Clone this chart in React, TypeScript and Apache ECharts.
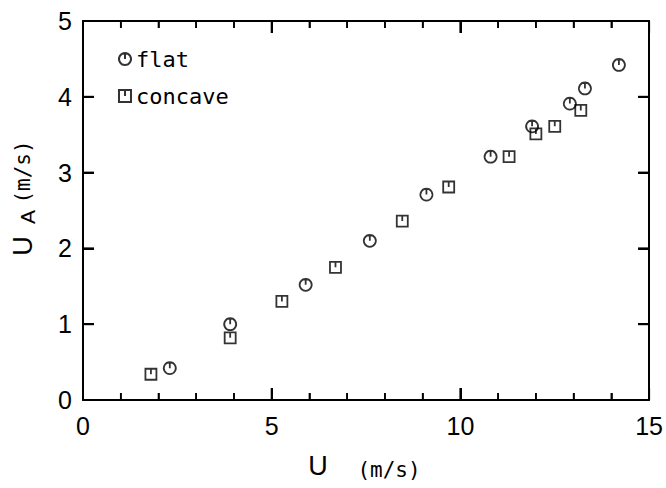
import React, { useEffect, useRef } from "react";
import * as echarts from "echarts";

// Wind speed U vs. apparent speed U_A, two plate shapes
const flatU = [2.3, 3.9, 5.9, 7.6, 9.1, 10.8, 11.9, 12.9, 13.3, 14.2];
const flatUA = [0.42, 1.0, 1.52, 2.1, 2.71, 3.21, 3.61, 3.91, 4.11, 4.42];
const concaveU = [1.8, 3.9, 5.27, 6.69, 8.46, 9.69, 11.29, 12.0, 12.5, 13.19];
const concaveUA = [0.34, 0.82, 1.3, 1.75, 2.36, 2.81, 3.21, 3.51, 3.61, 3.82];
const xTicks = [0, 5, 10, 15];
const xMinorTicks = [1, 2, 3, 4, 6, 7, 8, 9, 11, 12, 13, 14];
const yTicks = [0, 1, 2, 3, 4, 5];

const circleSym = "path://M0,-10 A10,10 0 1,1 -0.01,-10 Z M0,-10 L0,0";
const squareSym = "path://M-10,-10 L10,-10 L10,10 L-10,10 Z M0,-10 L0,0";

const X_MIN = xTicks[0];
const X_MAX = xTicks[xTicks.length - 1];
const Y_MIN = yTicks[0];
const Y_MAX = yTicks[yTicks.length - 1];

// Frame side codes for the inward tick marks: 0 bottom, 1 top, 2 left, 3 right
const frameTicks: number[][] = [
  ...xTicks.flatMap((v) => [[v, 0, 12], [v, 1, 12]]),
  ...xMinorTicks.flatMap((v) => [[v, 0, 7], [v, 1, 7]]),
  ...yTicks.flatMap((v) => [[v, 2, 11], [v, 3, 11]]),
];

function makeAxis(pos: string) {
  const horizontal = pos === "bottom" || pos === "top";
  const ticks = horizontal ? xTicks : yTicks;
  const labelled = pos === "bottom" || pos === "left";
  return {
    type: "value" as const,
    position: pos,
    z: 50,
    min: ticks[0],
    max: ticks[ticks.length - 1],
    interval: ticks[1] - ticks[0],
    axisLine: { show: true, onZero: false, lineStyle: { color: "#000", width: 2 } },
    axisTick: { show: true, inside: true, length: horizontal ? 12 : 11, lineStyle: { color: "#000", width: 2 } },
    minorTick: { show: horizontal, splitNumber: 5, length: 7, lineStyle: { color: "#000", width: 1.6 } },
    splitLine: { show: false },
    axisLabel: { show: labelled, color: "#000", fontSize: 25, margin: horizontal ? 13 : 11 },
  };
}

export default function App() {
  const ref = useRef<HTMLDivElement>(null);
  useEffect(() => {
    if (!ref.current) return;
    const chart = echarts.init(ref.current, null, { renderer: "svg" });
    const opt: any = {
      animation: false,
      backgroundColor: "#fff",
      grid: { left: 83, top: 21, right: 16, bottom: 88 },
      xAxis: [makeAxis("bottom"), makeAxis("top")],
      yAxis: [makeAxis("left"), makeAxis("right")],
      legend: {
        orient: "vertical",
        left: 113,
        top: 43,
        itemWidth: 12,
        itemHeight: 12,
        itemGap: 15,
        textStyle: { fontFamily: "DejaVu Sans Mono", fontSize: 22, color: "#000" },
        data: ["flat", "concave"],
      },
      series: [
        {
          name: "flat",
          type: "scatter",
          clip: false,
          symbol: circleSym,
          symbolSize: 12,
          itemStyle: { color: "transparent", borderColor: "#000", borderWidth: 1.8 },
          data: flatU.map((u, i) => [u, flatUA[i]]),
        },
        {
          name: "concave",
          type: "scatter",
          clip: false,
          symbol: squareSym,
          symbolSize: 11,
          itemStyle: { color: "transparent", borderColor: "#000", borderWidth: 1.8 },
          data: concaveU.map((u, i) => [u, concaveUA[i]]),
        },
        {
          name: "frame ticks",
          type: "custom",
          silent: true,
          clip: false,
          z: 100,
          data: frameTicks,
          renderItem: (_params: any, api: any) => {
            const v = api.value(0);
            const side = api.value(1);
            const len = api.value(2);
            let x1 = 0, y1 = 0, x2 = 0, y2 = 0;
            if (side === 0) {
              const p = api.coord([v, Y_MIN]);
              x1 = x2 = p[0]; y1 = p[1]; y2 = p[1] - len;
            } else if (side === 1) {
              const p = api.coord([v, Y_MAX]);
              x1 = x2 = p[0]; y1 = p[1]; y2 = p[1] + len;
            } else if (side === 2) {
              const p = api.coord([X_MIN, v]);
              y1 = y2 = p[1]; x1 = p[0]; x2 = p[0] + len;
            } else {
              const p = api.coord([X_MAX, v]);
              y1 = y2 = p[1]; x1 = p[0]; x2 = p[0] - len;
            }
            return {
              type: "line",
              shape: { x1, y1, x2, y2 },
              style: { stroke: "#000", lineWidth: len > 10 ? 2 : 1.6 },
            };
          },
        },
      ],
      graphic: [
        {
          type: "text",
          x: 318,
          y: 466,
          style: { text: "U", fontSize: 27, fill: "#000", align: "center", verticalAlign: "middle" },
        },
        {
          type: "text",
          x: 389,
          y: 470,
          style: { text: "(m/s)", fontSize: 21, fontFamily: "DejaVu Sans Mono", fill: "#000", align: "center", verticalAlign: "middle" },
        },
        {
          type: "text",
          x: 23,
          y: 246,
          rotation: Math.PI / 2,
          style: { text: "U", fontSize: 27, fill: "#000", align: "center", verticalAlign: "middle" },
        },
        {
          type: "text",
          x: 27,
          y: 217,
          rotation: Math.PI / 2,
          style: { text: "A", fontSize: 21, fill: "#000", align: "center", verticalAlign: "middle" },
        },
        {
          type: "text",
          x: 23,
          y: 172,
          rotation: Math.PI / 2,
          style: { text: "(m/s)", fontSize: 21, fontFamily: "DejaVu Sans Mono", fill: "#000", align: "center", verticalAlign: "middle" },
        },
      ],
    };
    chart.setOption(opt);
    return () => chart.dispose();
  }, []);
  return <div ref={ref} style={{ width: 666, height: 488, position: "fixed", left: 0, top: 0 }} />;
}
